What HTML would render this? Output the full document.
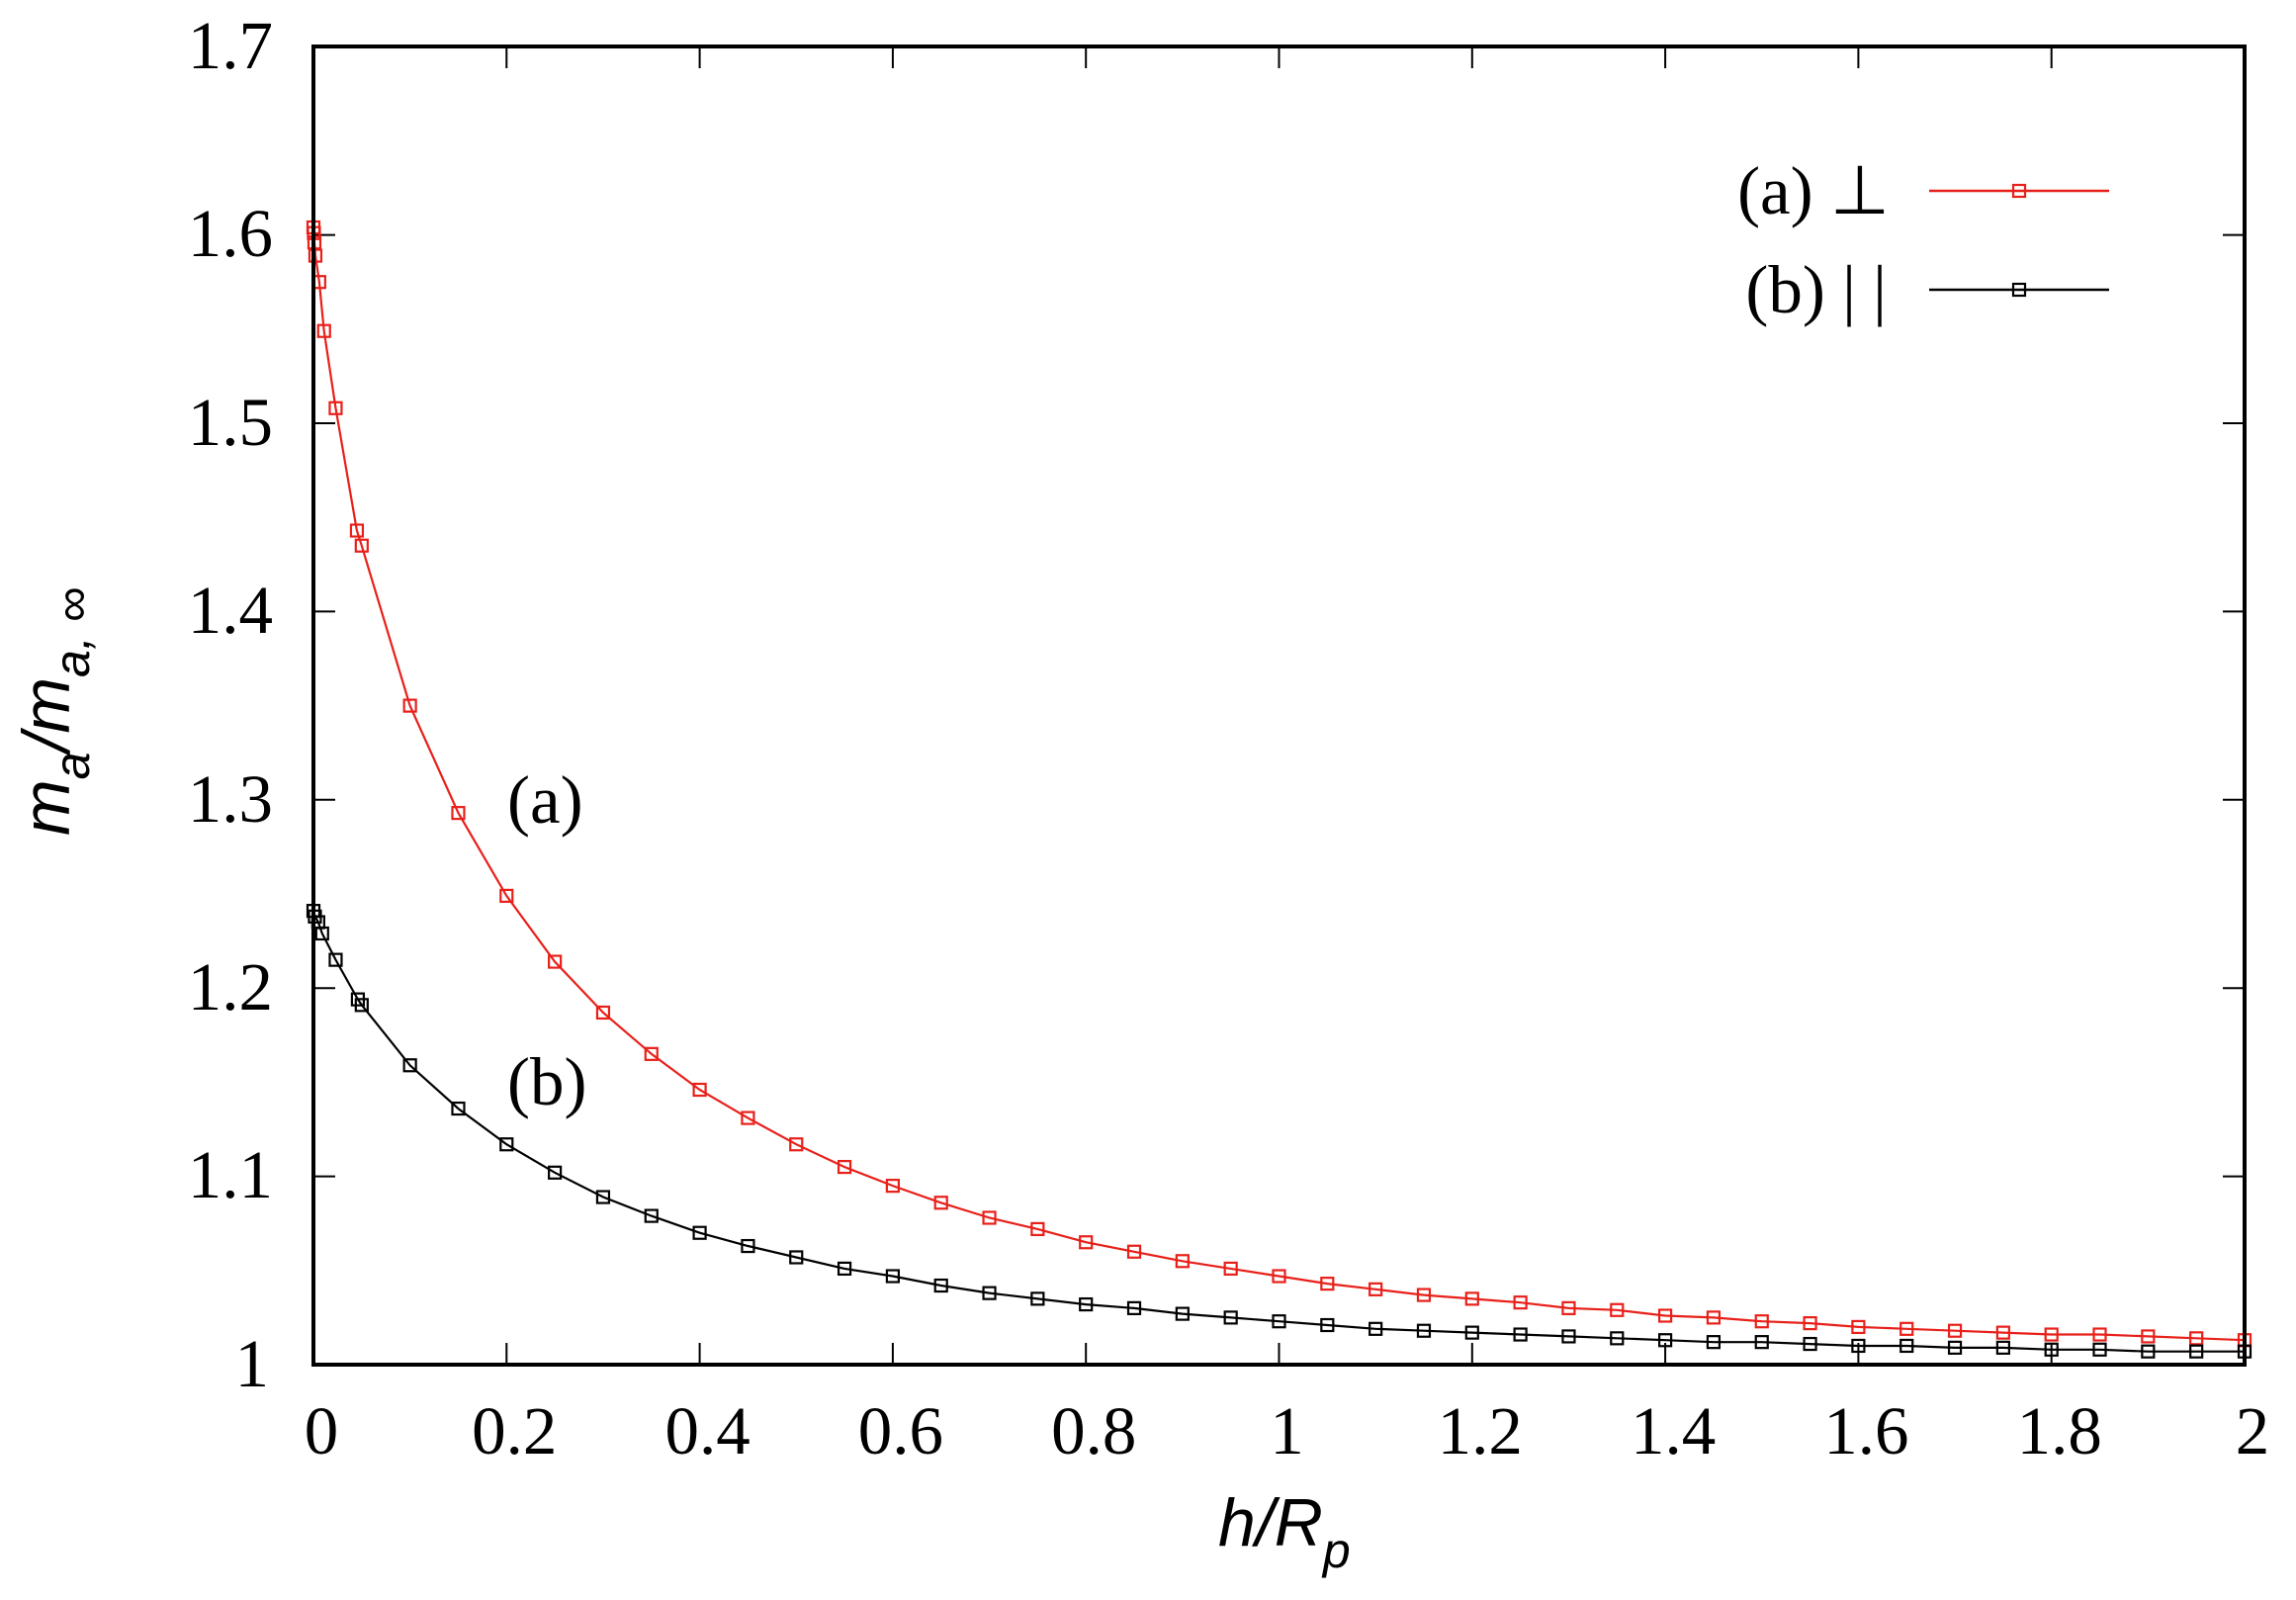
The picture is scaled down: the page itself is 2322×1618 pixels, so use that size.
<!DOCTYPE html>
<html><head><meta charset="utf-8"><style>
html,body{margin:0;padding:0;background:#fff;}
svg{display:block;}
</style></head><body>
<svg id="s" xmlns="http://www.w3.org/2000/svg" width="2322" height="1618" viewBox="0 0 2322 1618">
<rect width="2322" height="1618" fill="#fff"/>
<g id="grid"></g>
<g id="data"></g>
<rect x="317" y="47" width="1953" height="1333" fill="none" stroke="#000" stroke-width="4"/>
<g font-family="Liberation Serif, serif" font-size="69" fill="#000">
<text x="276" y="69" text-anchor="end">1.7</text>
<text x="276" y="259" text-anchor="end">1.6</text>
<text x="276" y="450" text-anchor="end">1.5</text>
<text x="276" y="640" text-anchor="end">1.4</text>
<text x="276" y="831" text-anchor="end">1.3</text>
<text x="276" y="1021" text-anchor="end">1.2</text>
<text x="276" y="1211" text-anchor="end">1.1</text>
<text x="272" y="1402" text-anchor="end">1</text>
<g id="xl" text-anchor="middle"></g>
<text x="513" y="832">(a)</text>
<text x="513" y="1117">(b)</text>
<text x="1911" y="216" text-anchor="end">(a) ⊥</text>
<text x="1908" y="316" text-anchor="end">(b) | |</text>
</g>
<g font-family="Liberation Sans, sans-serif" font-style="italic" font-size="68" fill="#000">
<text x="1232" y="1563">h/R<tspan font-size="50" dy="22">p</tspan></text>
<text transform="translate(70,845) rotate(-90)">m<tspan font-size="50" dy="20">a</tspan><tspan dy="-20">/m</tspan><tspan font-size="50" dy="20">a, ∞</tspan></text>
</g>
<line x1="1951" y1="193" x2="2133" y2="193" stroke="#e8201a" stroke-width="2.5"/>
<rect x="2036" y="187" width="12" height="12" fill="none" stroke="#e8201a" stroke-width="2.2"/>
<line x1="1951" y1="293" x2="2133" y2="293" stroke="#000" stroke-width="2.5"/>
<rect x="2036" y="287" width="12" height="12" fill="none" stroke="#000" stroke-width="2.2"/>
</svg>
<script>
var NS="http://www.w3.org/2000/svg";
function X(v){return 317+976.5*v;}
function Y(v){return 1380-1904*(v-1);}
function el(p,t,a){var e=document.createElementNS(NS,t);for(var k in a)e.setAttribute(k,a[k]);p.appendChild(e);return e;}
var g=document.getElementById('grid');
for(var i=1;i<7;i++){var y=Y(1+i*0.1);
el(g,'line',{x1:317,y1:y,x2:339,y2:y,stroke:'#000','stroke-width':2});
el(g,'line',{x1:2270,y1:y,x2:2248,y2:y,stroke:'#000','stroke-width':2});}
var xl=document.getElementById('xl');
var labs=['0','0.2','0.4','0.6','0.8','1','1.2','1.4','1.6','1.8','2'];
for(var i=0;i<=10;i++){var x=X(i*0.2);
if(i>0&&i<10){el(g,'line',{x1:x,y1:1380,x2:x,y2:1358,stroke:'#000','stroke-width':2});
el(g,'line',{x1:x,y1:47,x2:x,y2:69,stroke:'#000','stroke-width':2});}
var t=el(xl,'text',{x:x+8,y:1470});t.textContent=labs[i];}
var red=[1.604,1.601,1.596,1.589,1.575,1.549,1.508,1.443,1.435,1.350,1.293,1.249,1.214,1.187,1.165,1.146,1.131,1.117,1.105,1.095,1.086,1.078,1.072,1.065,1.060,1.055,1.051,1.047,1.043,1.040,1.037,1.035,1.033,1.030,1.029,1.026,1.025,1.023,1.022,1.020,1.019,1.018,1.017,1.016,1.016,1.015,1.014,1.013];
var redx=[0,0.0005,0.001,0.002,0.006,0.011,0.023,0.045,0.05];for(var i=2;i<=40;i++)redx.push(i*0.05);
var blk=[1.241,1.238,1.235,1.229,1.215,1.194,1.191,1.159,1.136,1.117,1.102,1.089,1.079,1.070,1.063,1.057,1.051,1.047,1.042,1.038,1.035,1.032,1.030,1.027,1.025,1.023,1.021,1.019,1.018,1.017,1.016,1.015,1.014,1.013,1.012,1.012,1.011,1.010,1.010,1.009,1.009,1.008,1.008,1.007,1.007,1.007];
var blkx=[0,0.0015,0.005,0.009,0.023,0.046,0.05];for(var i=2;i<=40;i++)blkx.push(i*0.05);
var d=document.getElementById('data');
function series(xa,ya,c){var n=Math.min(xa.length,ya.length);var pts=[];for(var i=0;i<n;i++)pts.push(X(xa[i]).toFixed(1)+','+Y(ya[i]).toFixed(1));
el(d,'polyline',{points:pts.join(' '),fill:'none',stroke:c,'stroke-width':2.2});
for(var i=0;i<n;i++)el(d,'rect',{x:X(xa[i])-6,y:Y(ya[i])-6,width:12,height:12,fill:'none',stroke:c,'stroke-width':2.2});}
series(redx,red,'#e8201a');
series(blkx,blk,'#000');
</script>
</body></html>
